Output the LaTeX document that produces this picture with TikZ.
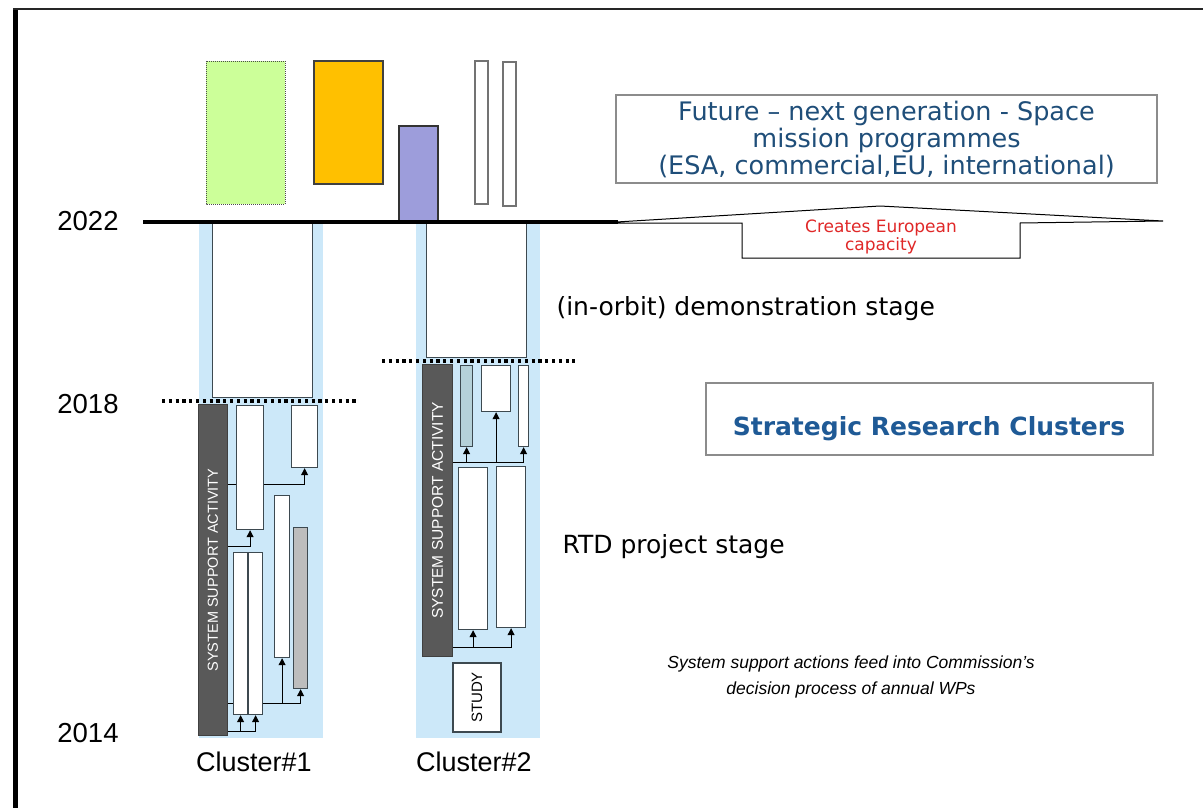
\documentclass[tikz,border=0pt]{standalone}
\usepackage{fontspec}
\setmainfont{Liberation Sans}
\newfontfamily\tahoma{DejaVu Sans}
\usetikzlibrary{arrows.meta}

\definecolor{bandblue}{HTML}{CCE8F9}
\definecolor{ssagray}{HTML}{595959}
\definecolor{boxedge}{HTML}{3D4950}
\definecolor{wpgray}{HTML}{BDBDBD}
\definecolor{wpteal}{HTML}{B5D1D9}
\definecolor{greenbox}{HTML}{CCFF99}
\definecolor{orangebox}{HTML}{FFC000}
\definecolor{violetbox}{HTML}{9D9DDB}
\definecolor{titleblue}{HTML}{1F4E79}
\definecolor{srcblue}{HTML}{1F5A96}
\definecolor{capred}{HTML}{E02828}

\pgfdeclarelayer{bands}
\pgfdeclarelayer{wires}
\pgfsetlayers{bands,wires,main}

\begin{document}
\begin{tikzpicture}[x=1pt, y=-1pt,
  wp/.style={draw=boxedge, line width=1.2pt, fill=white, inner sep=0pt, anchor=north west},
  ssa/.style={draw=black!75, line width=1pt, fill=ssagray, inner sep=0pt, anchor=north west},
  ssatext/.style={rotate=90, text=white, inner sep=0pt},
  feed/.style={line width=1pt, -{Triangle[length=7pt,width=7pt]}},
  stageline/.style={line width=3.2pt, dash pattern=on 3.2pt off 3.6pt},
  panel/.style={draw=black!45, line width=1.5pt, fill=white, inner sep=0pt},
  year/.style={font=\fontsize{27.5}{30}\selectfont},
  stage/.style={font=\tahoma\fontsize{25}{28}\selectfont, anchor=base west},
  cluster/.style={font=\fontsize{27}{30}\selectfont, anchor=base}]

  \useasboundingbox (0,0) rectangle (1203,808);

  % frame
  \fill[black] (13,8) rectangle (18,808);
  \draw[black!85, line width=2.5pt] (13,9.25) -- (1203,9.25);

  % === cluster bands + demonstration stage ===
  \begin{pgfonlayer}{bands}
    \fill[bandblue] (199,222) rectangle (323,738);
    \fill[bandblue] (416,222) rectangle (540,738);
  \end{pgfonlayer}
  \node[wp, minimum width=100pt, minimum height=175pt] (dem1) at (212,222) {};
  \node[wp, minimum width=100pt, minimum height=135pt] (dem2) at (426,222) {};

  % === mission programmes on top ===
  \draw[draw=black!70, dash pattern=on 1pt off 1pt, fill=greenbox] (206,61) rectangle (285,204);
  \draw[draw=black!75, line width=1.2pt, fill=orangebox] (314,61) rectangle (383,184);
  \draw[draw=black!80, line width=1.2pt, fill=violetbox] (399,126) rectangle (438,222);
  \draw[draw=black!55, line width=1.2pt, fill=white] (475,61) rectangle (488,204);
  \draw[draw=black!55, line width=1.2pt, fill=white] (503,62) rectangle (516,206);

  % capacity arrow + 2022 line
  \draw[line width=1pt, fill=white] (742,258) -- (742,223) -- (600,223) -- (880,206)
    -- (1163,221) -- (1020,223) -- (1020,258) -- cycle;
  \node[font=\tahoma\fontsize{17}{17.5}\selectfont, text=capred, align=center] (cap) at (881,237)
    {Creates European\\capacity};
  \draw[line width=3.5pt] (143,222) -- (618,222);

  % 2018 marks
  \draw[stageline] (162,401) -- (356,401);
  \draw[stageline] (382,361) -- (575,361);

  \node[year] (y22) at (88,221) {2022};
  \node[year] (y18) at (88,404) {2018};
  \node[year] (y14) at (88,733) {2014};

  % === texts on the right ===
  \node[panel, minimum width=541pt, minimum height=88pt, align=center, text=titleblue,
        font=\tahoma\fontsize{25.5}{27}\selectfont] (future) at (886.5,139)
    {Future – next generation - Space\\mission programmes\\(ESA, commercial,EU, international)};
  \node[panel, minimum width=447pt, minimum height=72pt] (src) at (929.5,419) {};
  \node[font=\tahoma\bfseries\fontsize{25}{28}\selectfont, text=srcblue] (srclbl) at (929,429)
    {Strategic Research Clusters};
  \node[stage] (demo) at (553,315) {(in-orbit) demonstration stage};
  \node[stage] (rtd) at (559,553) {RTD project stage};
  \node[font=\itshape\fontsize{17.5}{26}\selectfont, align=center] (ssanote) at (851,677)
    {System support actions feed into Commission’s\\decision process of annual WPs};

  \node[cluster] (cl1) at (254,771) {Cluster\#1};
  \node[cluster] (cl2) at (474,771) {Cluster\#2};

  % === Cluster#1 ===
  \node[ssa, minimum width=29pt, minimum height=331pt] (ssa1) at (198,404) {};
  \node[ssatext, font=\fontsize{14.5}{15}\selectfont] (ssa1lbl) at (ssa1.center) {SYSTEM SUPPORT ACTIVITY};
  \node[wp, minimum width=27pt, minimum height=124pt] (a1) at (236,405) {};
  \node[wp, minimum width=26pt, minimum height=62pt] (b1) at (291,405) {};
  \node[wp, minimum width=14pt, minimum height=162pt] (c1) at (233,552) {};
  \node[wp, minimum width=14pt, minimum height=162pt] (d1) at (248,552) {};
  \node[wp, minimum width=15pt, minimum height=162pt] (e1) at (274,495) {};
  \node[wp, fill=wpgray, minimum width=14pt, minimum height=161pt] (f1) at (293,527) {};

  \begin{pgfonlayer}{wires}
    \draw[feed] (ssa1.east |- 0,484) -| (b1.south);
    \draw[feed] (ssa1.east |- 0,546) -| (a1.south);
    \draw[feed] (ssa1.east |- 0,703) -| (f1.south);
    \draw[feed] (e1.south |- 0,703) -- (e1.south);
    \draw[feed] (ssa1.east |- 0,731) -| (d1.south);
    \draw[feed] (c1.south |- 0,731) -- (c1.south);
  \end{pgfonlayer}

  % === Cluster#2 ===
  \node[ssa, minimum width=30pt, minimum height=292pt] (ssa2) at (422,364) {};
  \node[ssatext, font=\fontsize{15.5}{16}\selectfont] (ssa2lbl) at (ssa2.center) {SYSTEM SUPPORT ACTIVITY};
  \node[wp, fill=wpteal, minimum width=12pt, minimum height=81pt] (g2) at (460,365) {};
  \node[wp, minimum width=29pt, minimum height=46pt] (h2) at (481,365) {};
  \node[wp, minimum width=10pt, minimum height=81pt] (i2) at (518,365) {};
  \node[wp, minimum width=29pt, minimum height=162pt] (j2) at (458,467) {};
  \node[wp, minimum width=29pt, minimum height=161pt] (k2) at (496,466) {};
  \node[wp, anchor=center, rotate=90, minimum width=69pt, minimum height=48pt,
        font=\fontsize{15}{15}\selectfont] (study) at (477,697.5) {STUDY};

  \begin{pgfonlayer}{wires}
    \draw[feed] (ssa2.east |- 0,462) -| (i2.south);
    \draw[feed] (g2.south |- 0,462) -- (g2.south);
    \draw[feed] (h2.south |- 0,462) -- (h2.south);
    \draw[feed] (ssa2.east |- 0,647) -| (k2.south);
    \draw[feed] (j2.south |- 0,647) -- (j2.south);
  \end{pgfonlayer}

\end{tikzpicture}
\end{document}
